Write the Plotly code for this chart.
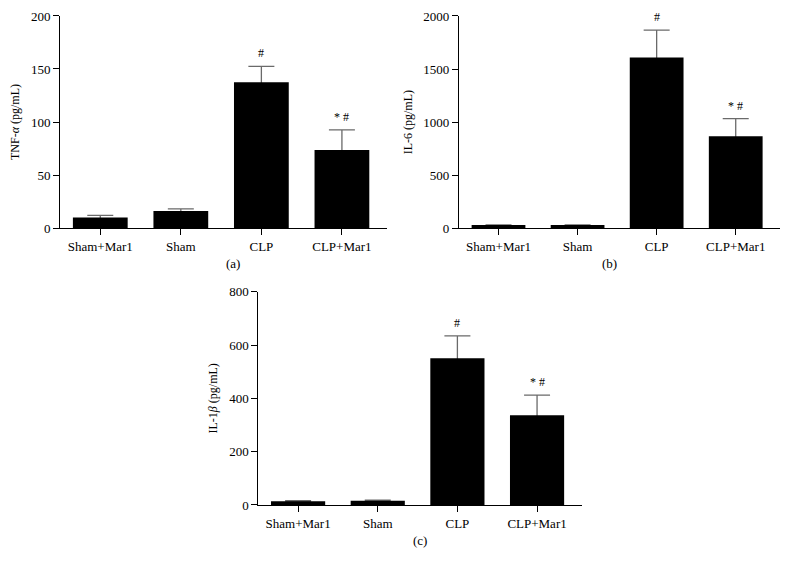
import plotly.graph_objects as go

groups = ["Sham+Mar1", "Sham", "CLP", "CLP+Mar1"]

tnf_mean = [10, 16, 137.5, 73.5]
tnf_err = [2, 2, 15, 19]

il6_mean = [30, 30, 1610, 868]
il6_err = [3, 3, 256, 166]

il1b_mean = [14, 16, 550, 337]
il1b_err = [2, 2, 84, 75]

marks = ["", "", "#", "* #"]
panel_labels = ["(a)", "(b)", "(c)"]

FONT = "Liberation Serif"

# panel layout: (xaxis, yaxis, x domain, y domain, y range, dtick, y title)
panels = [
    ("x", "y", [0.0660, 0.4810], [0.6140, 0.9860], [0, 200], 50,
     "TNF-<i>α</i> (pg/mL)", tnf_mean, tnf_err),
    ("x2", "y2", [0.5723, 0.9797], [0.6135, 0.9860], [0, 2000], 500,
     "IL-6 (pg/mL)", il6_mean, il6_err),
    ("x3", "y3", [0.3176, 0.7280], [0.1281, 0.5023], [0, 800], 200,
     "IL-1<i>β</i> (pg/mL)", il1b_mean, il1b_err),
]

fig = go.Figure()
layout = {}
annotations = []

for i, (xa, ya, xdom, ydom, yr, dt, ytitle, mean, err) in enumerate(panels):
    xs = list(range(len(groups)))
    # invisible bars carry the error bars; the black bars drawn after hide the lower half
    fig.add_trace(go.Bar(
        x=xs, y=mean, width=0.68,
        marker=dict(color="rgba(0,0,0,0)", line=dict(width=0)),
        error_y=dict(type="data", array=err, color="#6a6a6a", thickness=1.3, width=13),
        xaxis=xa, yaxis=ya, showlegend=False, hoverinfo="skip",
    ))
    fig.add_trace(go.Bar(
        x=xs, y=mean, width=0.68,
        marker=dict(color="black", line=dict(width=0)),
        xaxis=xa, yaxis=ya, showlegend=False,
    ))
    sfx = "" if i == 0 else str(i + 1)
    layout["xaxis" + sfx] = dict(
        domain=xdom, anchor=ya, range=[-0.5, 3.56], automargin=False,
        tickmode="array", tickvals=xs, ticktext=groups,
        ticks="outside", ticklen=6, tickwidth=1, tickcolor="black",
        showline=True, linecolor="black", linewidth=1,
        showgrid=False, zeroline=False,
        tickfont=dict(family=FONT, size=13, color="black"),
    )
    layout["yaxis" + sfx] = dict(
        domain=ydom, anchor=xa, range=yr, dtick=dt, automargin=False,
        ticks="outside", ticklen=6, tickwidth=1, tickcolor="black",
        showline=True, linecolor="black", linewidth=1,
        showgrid=False, zeroline=False, ticklabeloverflow="allow",
        tickfont=dict(family=FONT, size=13, color="black"),
        title=dict(text=ytitle, font=dict(family=FONT, size=12, color="black"), standoff=8),
    )
    for j, m in enumerate(marks):
        if m:
            annotations.append(dict(
                x=j, y=mean[j] + err[j], xref=xa, yref=ya, text=m,
                showarrow=False, yanchor="bottom", yshift=4,
                font=dict(family=FONT, size=12, color="black"),
            ))
    annotations.append(dict(
        x=(xdom[0] + xdom[1]) / 2, y=ydom[0], xref="paper", yref="paper",
        text=panel_labels[i], showarrow=False, yanchor="top", yshift=-26,
        font=dict(family=FONT, size=13, color="black"),
    ))

fig.update_layout(
    width=788, height=570,
    margin=dict(l=0, r=0, t=0, b=0),
    barmode="overlay",
    plot_bgcolor="white", paper_bgcolor="white",
    annotations=annotations,
    **layout,
)

fig.write_html("out.html")
